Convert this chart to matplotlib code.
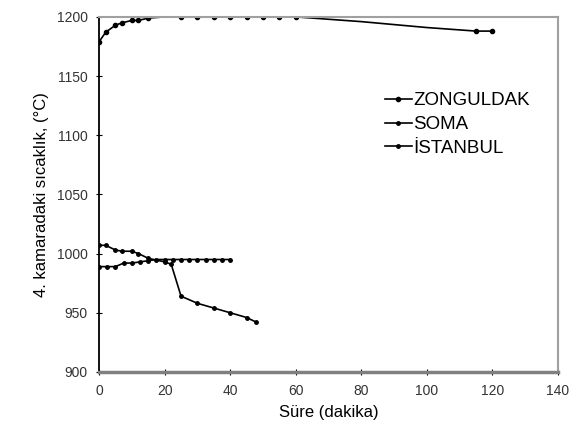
import matplotlib.pyplot as plt

plt.rcParams['font.family'] = ['Liberation Sans', 'DejaVu Sans']

# data
zong_t = [0, 2, 5, 7, 10, 12, 15, 20, 25, 30, 35, 40, 45, 50, 55, 60, 80, 100, 115, 120]
zong_T = [1179, 1187, 1193, 1195, 1197, 1197, 1199, 1200, 1200, 1200, 1200, 1200, 1200, 1200, 1200, 1200, 1196, 1191, 1188, 1188]
zong_marked = [0, 1, 2, 3, 4, 5, 6, 8, 9, 10, 11, 12, 13, 14, 15, 18, 19]

soma_t = [0, 2, 5, 7, 10, 12, 15, 20, 22, 25, 30, 35, 40, 45, 48]
soma_T = [1007, 1007, 1003, 1002, 1002, 1000, 996, 993, 991, 964, 958, 954, 950, 946, 942]

ist_t = [0, 2.5, 5, 7.5, 10, 12.5, 15, 17.5, 20, 22.5, 25, 27.5, 30, 32.5, 35, 37.5, 40]
ist_T = [989, 989, 989, 992, 992, 993, 994, 995, 995, 995, 995, 995, 995, 995, 995, 995, 995]

fig = plt.figure(figsize=(5.83, 4.33), dpi=100)
ax = fig.add_axes([0.170, 0.141, 0.787, 0.820])

ax.plot(zong_t, zong_T, color='black', marker='o', markersize=3, linewidth=1.2,
        markevery=zong_marked, label='ZONGULDAK')
ax.plot(soma_t, soma_T, color='black', marker='o', markersize=2.5, linewidth=1.2, label='SOMA')
ax.plot(ist_t, ist_T, color='black', marker='o', markersize=2.5, linewidth=1.2, label='İSTANBUL')

ax.set_xlim(0, 140)
ax.set_ylim(900, 1200)
ax.set_xticks(range(0, 141, 20))
ax.set_yticks(range(900, 1201, 50))
ax.tick_params(axis='y', labelsize=10, length=4, direction='inout', pad=6, labelcolor='#333333')
ax.tick_params(axis='x', labelsize=10, length=4, direction='inout', pad=7, labelcolor='#333333')

for s in ['top', 'right']:
    ax.spines[s].set_color('#a0a0a0')
    ax.spines[s].set_linewidth(1.5)
ax.spines['bottom'].set_color('#808080')
ax.spines['bottom'].set_linewidth(2.5)
ax.spines['left'].set_color('black')
ax.spines['left'].set_linewidth(1.3)

ax.set_xlabel('Süre (dakika)', fontsize=12, labelpad=5)
ax.set_ylabel('4. kamaradaki sıcaklık, (°C)', fontsize=12, labelpad=6)

ax.legend(loc='upper left', bbox_to_anchor=(0.587, 0.835), frameon=False, fontsize=13.5,
          handlelength=1.4, handletextpad=0.1, labelspacing=0.35, markerscale=1.0)

fig.savefig('out.png', dpi=100)
